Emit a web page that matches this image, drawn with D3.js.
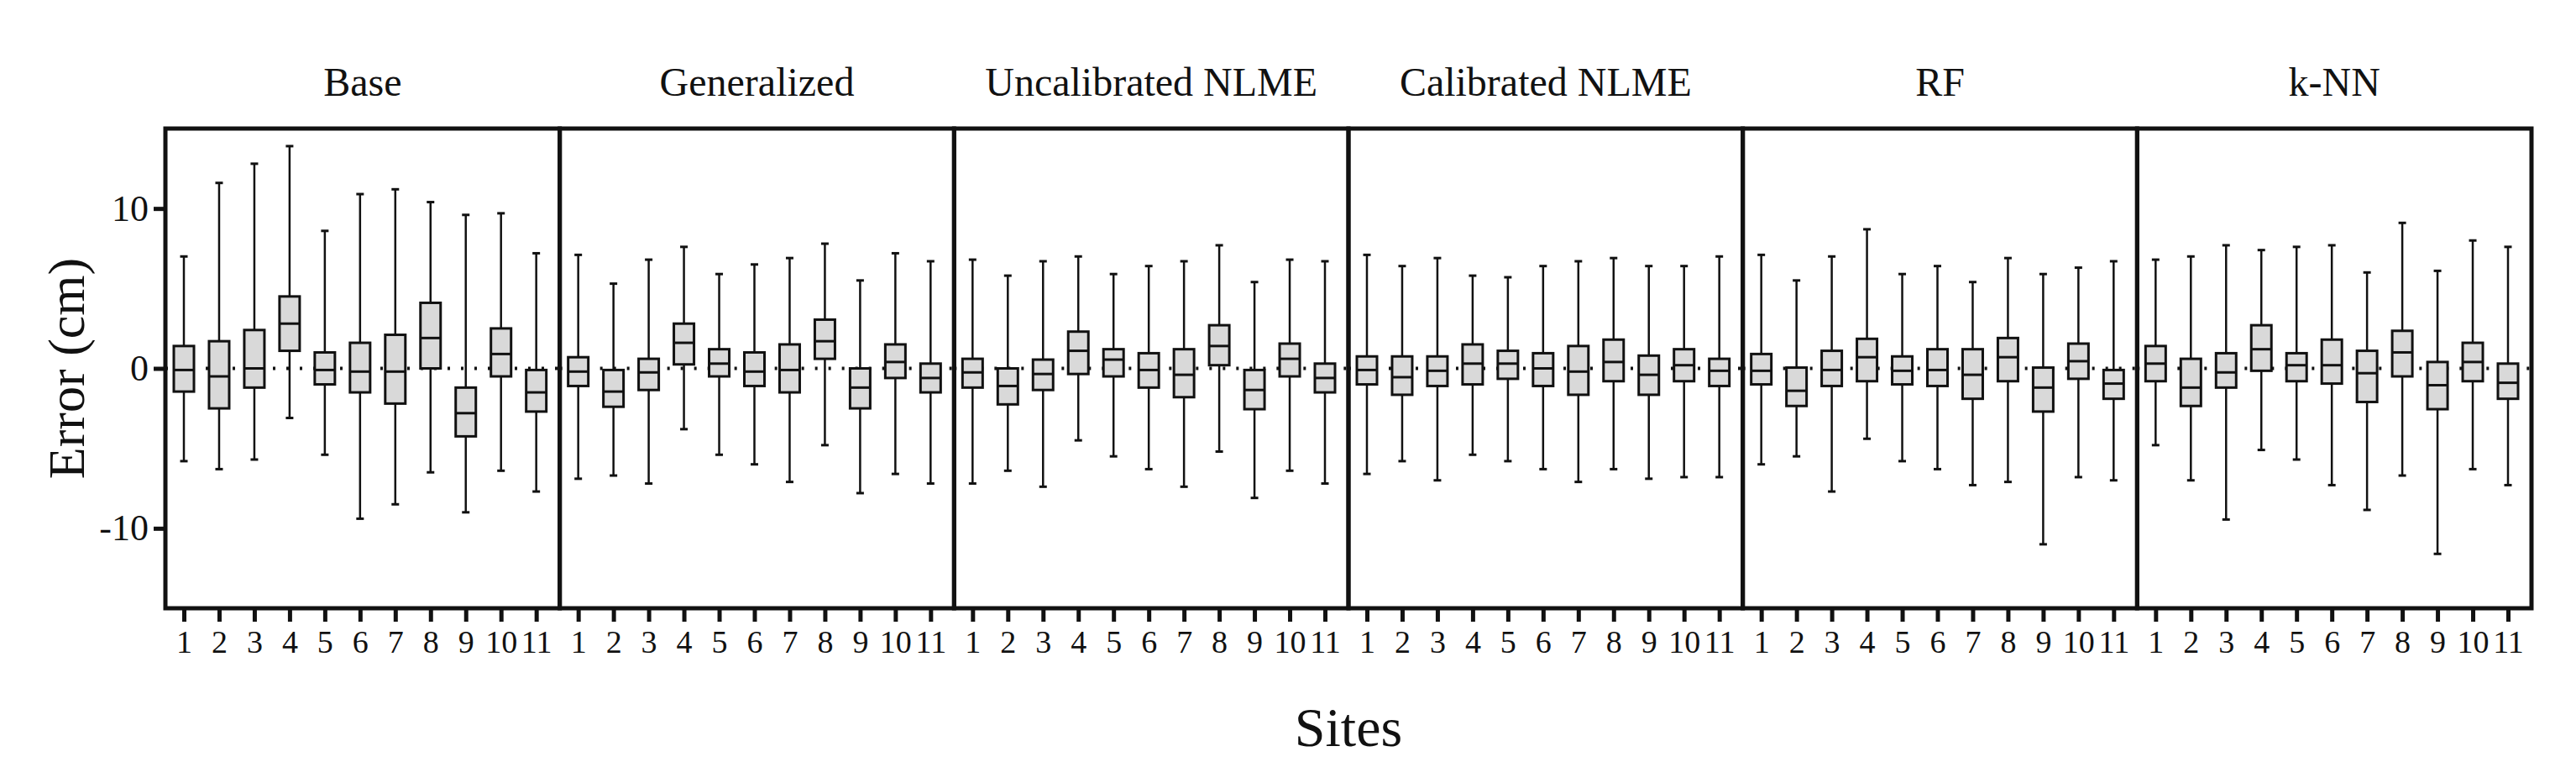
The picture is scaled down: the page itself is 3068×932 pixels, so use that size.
<!DOCTYPE html>
<html><head><meta charset="utf-8">
<script src="https://cdn.jsdelivr.net/npm/d3@7"></script>
<style>body{margin:0;background:#fff}</style></head>
<body><svg id="c" width="3068" height="932"></svg>
<script>
const panels = ["Base","Generalized","Uncalibrated NLME","Calibrated NLME","RF","k-NN"];
const sites = [1,2,3,4,5,6,7,8,9,10,11];
const yTicks = [-10,0,10];
// each entry: [min, q1, median, q3, max] per site
const baseStats = [[-5.8,-1.45,-0.1,1.4,7.0],[-6.3,-2.5,-0.5,1.7,11.6],[-5.7,-1.2,0,2.4,12.8],[-3.1,1.1,2.8,4.5,13.9],[-5.4,-1.0,-0.1,1.0,8.6],[-9.4,-1.5,-0.2,1.6,10.9],[-8.5,-2.2,-0.2,2.1,11.2],[-6.5,0,1.9,4.1,10.4],[-9.0,-4.25,-2.8,-1.2,9.6],[-6.4,-0.5,0.9,2.5,9.7],[-7.7,-2.7,-1.5,-0.1,7.2]];
const generalizedStats = [[-6.9,-1.1,-0.2,0.7,7.1],[-6.7,-2.4,-1.45,-0.1,5.3],[-7.2,-1.35,-0.25,0.6,6.8],[-3.8,0.25,1.6,2.8,7.6],[-5.4,-0.5,0.3,1.2,5.9],[-6.0,-1.1,-0.2,1.0,6.5],[-7.1,-1.5,-0.1,1.5,6.9],[-4.8,0.6,1.7,3.05,7.8],[-7.8,-2.5,-1.2,0,5.5],[-6.6,-0.6,0.4,1.5,7.2],[-7.2,-1.5,-0.6,0.3,6.7]];
const uncalStats = [[-7.2,-1.2,-0.25,0.6,6.8],[-6.4,-2.25,-1.1,0,5.8],[-7.4,-1.35,-0.35,0.55,6.7],[-4.5,-0.35,1.1,2.3,7.0],[-5.5,-0.5,0.55,1.2,5.9],[-6.3,-1.2,-0.1,0.95,6.4],[-7.4,-1.8,-0.4,1.2,6.7],[-5.2,0.2,1.4,2.7,7.7],[-8.1,-2.55,-1.35,-0.1,5.4],[-6.4,-0.5,0.6,1.55,6.8],[-7.2,-1.5,-0.6,0.3,6.7]];
const calStats = [[-6.6,-1.0,-0.1,0.75,7.1],[-5.8,-1.65,-0.55,0.75,6.4],[-7.0,-1.1,-0.15,0.75,6.9],[-5.4,-1.0,0.3,1.5,5.8],[-5.8,-0.65,0.3,1.1,5.7],[-6.3,-1.1,0,0.95,6.4],[-7.1,-1.65,-0.2,1.4,6.7],[-6.3,-0.8,0.4,1.8,6.9],[-6.9,-1.65,-0.4,0.8,6.4],[-6.8,-0.8,0.2,1.2,6.4],[-6.8,-1.1,-0.15,0.6,7.0]];
const rfStats = [[-6.0,-1.0,-0.15,0.9,7.1],[-5.5,-2.35,-1.4,0.05,5.5],[-7.7,-1.1,-0.1,1.1,7.0],[-4.4,-0.8,0.7,1.85,8.7],[-5.8,-1.0,-0.15,0.75,5.9],[-6.3,-1.1,-0.1,1.2,6.4],[-7.3,-1.9,-0.4,1.2,5.4],[-7.1,-0.8,0.7,1.9,6.9],[-11.0,-2.7,-1.2,0.05,5.9],[-6.8,-0.65,0.45,1.55,6.3],[-7.0,-1.9,-0.95,-0.1,6.7]];
const knnStats = [[-4.8,-0.8,0.3,1.4,6.8],[-7.0,-2.35,-1.2,0.6,7.0],[-9.45,-1.2,-0.25,0.95,7.7],[-5.1,-0.15,1.2,2.7,7.4],[-5.7,-0.8,0.2,0.95,7.6],[-7.3,-0.95,0.2,1.8,7.7],[-8.85,-2.1,-0.3,1.1,6.0],[-6.7,-0.5,1.0,2.35,9.1],[-11.6,-2.55,-1.05,0.4,6.1],[-6.3,-0.8,0.4,1.6,8.0],[-7.3,-1.9,-0.9,0.3,7.6]];
const allStats = [baseStats,generalizedStats,uncalStats,calStats,rfStats,knnStats];

const svg = d3.select("#c");
const font = "'Liberation Serif','Times New Roman',serif";
const L=197, R=3015, T=153, B=724;
const pw = (R-L)/panels.length;
const y = d3.scaleLinear().domain([-15,15]).range([B,T]);
const px = d3.scaleBand().domain(panels).range([L,R]);

panels.forEach((p,i)=>{
  const x0 = px(p);
  const x = d3.scalePoint().domain(sites).range([x0+22, x0+pw-28]);
  const g = svg.append("g");
  g.append("line").attr("x1",x0).attr("x2",x0+pw).attr("y1",y(0)).attr("y2",y(0))
    .attr("stroke","#111").attr("stroke-width",4).attr("stroke-dasharray","3,13");
  allStats[i].forEach((s,j)=>{
    const cx = x(sites[j]), bw=24, cw=9;
    g.append("line").attr("x1",cx).attr("x2",cx).attr("y1",y(s[0])).attr("y2",y(s[4])).attr("stroke","#111").attr("stroke-width",2.5);
    [s[0],s[4]].forEach(v=>g.append("line").attr("x1",cx-cw/2).attr("x2",cx+cw/2).attr("y1",y(v)).attr("y2",y(v)).attr("stroke","#111").attr("stroke-width",3));
    g.append("rect").attr("x",cx-bw/2).attr("width",bw).attr("y",y(s[3])).attr("height",y(s[1])-y(s[3]))
      .attr("fill","#d9d9d9").attr("stroke","#111").attr("stroke-width",3);
    g.append("line").attr("x1",cx-bw/2).attr("x2",cx+bw/2).attr("y1",y(s[2])).attr("y2",y(s[2])).attr("stroke","#111").attr("stroke-width",3);
  });
  const ax = svg.append("g").attr("transform",`translate(0,${B})`)
    .call(d3.axisBottom(x).tickSize(16).tickPadding(10));
  ax.select(".domain").remove();
  ax.selectAll(".tick line").attr("stroke","#111").attr("stroke-width",5);
  ax.selectAll(".tick text").attr("font-family",font).attr("font-size",38).attr("fill","#111");
  svg.append("text").attr("x",x0+pw/2).attr("y",114).attr("text-anchor","middle")
    .attr("font-family",font).attr("font-size",48).attr("fill","#111").text(p);
  svg.append("rect").attr("x",x0).attr("y",T).attr("width",pw).attr("height",B-T)
    .attr("fill","none").attr("stroke","#111").attr("stroke-width",5);
});

const ay = svg.append("g").attr("transform",`translate(${L},0)`)
  .call(d3.axisLeft(y).tickValues(yTicks).tickSize(14).tickPadding(6).tickFormat(d=>String(d)));
ay.select(".domain").remove();
ay.selectAll(".tick line").attr("stroke","#111").attr("stroke-width",5);
ay.selectAll(".tick text").attr("font-family",font).attr("font-size",44).attr("fill","#111");

svg.append("text").attr("transform",`translate(100,${(T+B)/2}) rotate(-90)`).attr("text-anchor","middle")
  .attr("font-family",font).attr("font-size",62).attr("fill","#111").text("Error (cm)");
svg.append("text").attr("x",(L+R)/2).attr("y",888).attr("text-anchor","middle")
  .attr("font-family",font).attr("font-size",66).attr("fill","#111").text("Sites");
</script></body></html>
